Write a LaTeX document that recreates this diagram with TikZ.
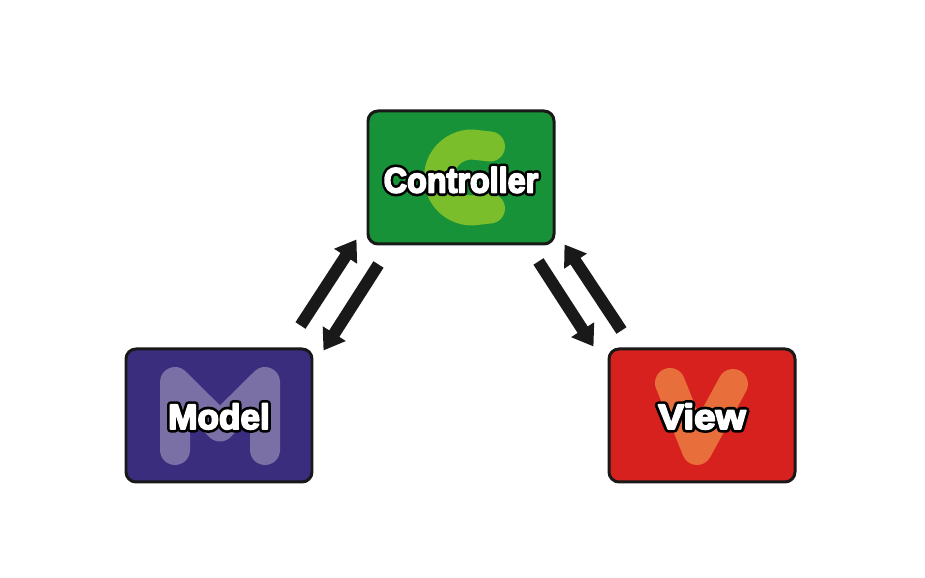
\documentclass[tikz,border=0pt]{standalone}
\usepackage{fontspec}
\setmainfont{Liberation Sans}
\newfontfamily\rimfont{Liberation Sans Bold}[FakeBold=20]
\newfontfamily\facefont{Liberation Sans Bold}[FakeBold=5]
\usetikzlibrary{arrows.meta}

\definecolor{ctrlgreen}{RGB}{24,146,56}
\definecolor{cgreen}{RGB}{122,190,44}
\definecolor{modelblue}{RGB}{58,45,126}
\definecolor{mlilac}{RGB}{122,112,166}
\definecolor{viewred}{RGB}{214,33,30}
\definecolor{vorange}{RGB}{232,110,60}
\definecolor{edge}{RGB}{25,25,25}

\tikzset{
  box/.style={draw=edge, line width=1.7pt, rounded corners=0.2cm,
    minimum width=3.72cm, minimum height=2.66cm, inner sep=0pt},
  letter/.style={line cap=round, line join=round, line width=0.6cm},
  flow/.style={edge, line width=0.24cm,
    -{Triangle[length=0.4cm,width=0.52cm]}},
  label/.style={font=\fontsize{20}{20}\selectfont,
    line join=round, line cap=round}
}
% white text with a black rim
\newcommand{\boxtext}[1]{\special{pdf:literal direct 1 j 1 J}\rlap{\rimfont\color{black}#1}{\facefont\color{white}#1}}

\begin{document}
\begin{tikzpicture}
            \useasboundingbox (0,0) rectangle (18.5,11.56);

            % Boxes
            \node[box, fill=ctrlgreen] (ctrl) at (9.22,8.01) {};
            \node[box, fill=modelblue] (model) at (4.38,3.25) {};
            \node[box, fill=viewred] (view) at (14.04,3.25) {};

            % Big letters behind the labels
            \begin{scope}[shift={(ctrl.center)}]
                \draw[letter, cgreen] (0.58,0.62) -- (0.22,0.66) arc[start angle=90, end angle=270, radius=0.66] -- (0.58,-0.62);
            \end{scope}
            \begin{scope}[shift={(model.center)}]
                \draw[letter, mlilac] (-0.88,-0.69) -- (-0.88,0.67) -- (0.02,-0.22) -- (0.92,0.67) -- (0.92,-0.69);
            \end{scope}
            \begin{scope}[shift={(view.center)}]
                \draw[letter, vorange] (-0.64,0.65) -- (-0.1,-0.69) -- (0.62,0.63);
            \end{scope}

            % Labels
            \node[label, xscale=0.92, transform shape] (ctrltext) at ([yshift=-0.05cm]ctrl.center) {\boxtext{Controller}};
            \node[label] (modeltext) at ([yshift=-0.02cm]model.center) {\boxtext{Model}};
            \node[label, xscale=1.1, transform shape] (viewtext) at ([yshift=-0.02cm]view.center) {\boxtext{View}};

            % Arrows between model and controller
            \draw[flow] ([shift={(-0.26,0.44)}]model.north east) -- ([shift={(-0.2,0.12)}]ctrl.south west);
            \draw[flow] ([shift={(0.24,-0.38)}]ctrl.south west) -- ([shift={(0.2,-0.06)}]model.north east);

            % Arrows between controller and view
            \draw[flow] ([shift={(-0.34,-0.32)}]ctrl.south east) -- ([shift={(-0.28,0.02)}]view.north west);
            \draw[flow] ([shift={(0.28,0.34)}]view.north west) -- ([shift={(0.18,0.02)}]ctrl.south east);
\end{tikzpicture}
\end{document}
